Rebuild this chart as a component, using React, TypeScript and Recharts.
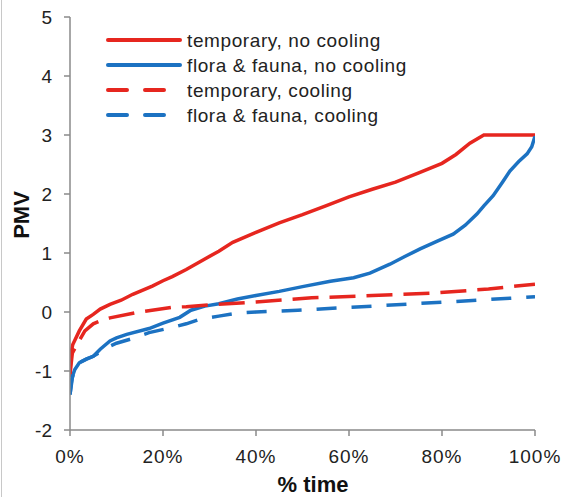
import React from 'react';
import { LineChart, Line, XAxis, YAxis, Legend, Label } from 'recharts';

const xTicks = [0, 20, 40, 60, 80, 100];
const yTicks = [-2, -1, 0, 1, 2, 3, 4, 5];

const seriesNames = [
  'temporary, no cooling',
  'flora & fauna, no cooling',
  'temporary, cooling',
  'flora & fauna, cooling',
];

const xTempNoCool = [0, 0.2, 0.6, 2, 3.5, 5, 6.5, 8.6, 11, 13.5, 17.7, 20, 22, 25, 29, 32, 35, 40, 45, 50, 55, 60, 65, 70, 75, 80, 83, 86, 89, 100];
const yTempNoCool = [-1.1, -0.7, -0.55, -0.32, -0.12, -0.04, 0.05, 0.13, 0.2, 0.3, 0.44, 0.53, 0.6, 0.72, 0.9, 1.03, 1.18, 1.35, 1.51, 1.65, 1.8, 1.95, 2.08, 2.2, 2.36, 2.52, 2.67, 2.86, 3.0, 3.0];

const xFloraNoCool = [0, 0.4, 1, 2, 3.5, 5, 6.5, 8.6, 10, 12.2, 17, 20, 23.6, 26, 29, 32, 36, 40, 45, 50, 56, 61, 64.5, 68.8, 72, 75.3, 79, 82.4, 85, 87.5, 89, 91, 93, 94.6, 96.5, 98.3, 99.3, 100];
const yFloraNoCool = [-1.4, -1.12, -0.98, -0.86, -0.8, -0.75, -0.63, -0.49, -0.44, -0.38, -0.28, -0.19, -0.09, 0.03, 0.1, 0.14, 0.22, 0.28, 0.35, 0.43, 0.52, 0.58, 0.66, 0.81, 0.94, 1.07, 1.2, 1.32, 1.47, 1.66, 1.8, 1.97, 2.2, 2.39, 2.55, 2.68, 2.8, 2.98];

const xTempCool = [0, 0.5, 1.5, 3.2, 5, 6.5, 8.6, 15, 22, 25, 30, 40, 52, 65, 78, 90, 96, 100];
const yTempCool = [-1.05, -0.7, -0.55, -0.32, -0.2, -0.15, -0.1, 0.0, 0.08, 0.09, 0.12, 0.17, 0.24, 0.28, 0.32, 0.39, 0.44, 0.47];

const xFloraCool = [0, 0.5, 1, 2, 3.5, 5, 6.5, 8, 10, 13, 17, 21, 25, 28, 32, 36, 40, 49, 65, 81, 96, 100];
const yFloraCool = [-1.4, -1.12, -0.98, -0.86, -0.8, -0.75, -0.68, -0.6, -0.53, -0.46, -0.35, -0.28, -0.2, -0.12, -0.07, -0.02, 0.0, 0.03, 0.1, 0.17, 0.24, 0.26];

const toPts = (xs: number[], ys: number[]) => xs.map((x, i) => ({ x, y: ys[i] }));

const RED = '#e6261f';
const BLUE = '#1c72c2';
const AXIS = '#8a8a8a';
const FONT = 'Liberation Sans, Arial, sans-serif';

const legendItems = [
  { name: seriesNames[0], color: RED, dash: undefined },
  { name: seriesNames[1], color: BLUE, dash: undefined },
  { name: seriesNames[2], color: RED, dash: '19 18' },
  { name: seriesNames[3], color: BLUE, dash: '19 18' },
];

const renderLegend = () => (
  <svg width={320} height={110}>
    {legendItems.map((it, i) => {
      const y = 15 + i * 25;
      return (
        <g key={it.name}>
          <line
            x1={8}
            x2={it.dash ? 64 : 80}
            y1={y}
            y2={y}
            stroke={it.color}
            strokeWidth={4}
            strokeDasharray={it.dash}
            strokeLinecap="round"
          />
          <text
            x={87}
            y={y}
            dominantBaseline="central"
            fontSize={19}
            letterSpacing={0.6}
            fontFamily={FONT}
            fill="#222"
          >
            {it.name}
          </text>
        </g>
      );
    })}
  </svg>
);

export default function App() {
  return (
    <div style={{ position: 'absolute', left: 0, top: 0, width: 565, height: 497, background: '#fff' }}>
      <div style={{ position: 'absolute', left: 1, top: 0, width: 1, height: 497, background: '#c8c8c8' }} />
      <LineChart width={565} height={497} margin={{ top: 17, right: 30, bottom: 37, left: 30 }}>
        <XAxis
          type="number"
          dataKey="x"
          domain={[0, 100]}
          ticks={xTicks}
          tickFormatter={(v: number) => `${v}%`}
          stroke={AXIS}
          strokeWidth={1.5}
          tickSize={6}
          tickMargin={14}
          height={30}
          tick={{ fill: '#222', fontSize: 19, fontFamily: FONT, letterSpacing: 1 }}
          allowDataOverflow
        >
          <Label
            content={() => (
              <text x={313} y={492} textAnchor="middle" fontSize={22} fontWeight="bold" fontFamily={FONT} fill="#111">
                % time
              </text>
            )}
          />
        </XAxis>
        <YAxis
          type="number"
          domain={[-2, 5]}
          ticks={yTicks}
          stroke={AXIS}
          strokeWidth={1.5}
          tickSize={6}
          tickMargin={12}
          width={40}
          tick={{ fill: '#222', fontSize: 19, fontFamily: FONT }}
          allowDataOverflow
        >
          <Label
            content={() => (
              <text
                x={21}
                y={215}
                transform="rotate(-90, 21, 215)"
                textAnchor="middle"
                dominantBaseline="central"
                fontSize={22}
                fontWeight="bold"
                fontFamily={FONT}
                fill="#111"
              >
                PMV
              </text>
            )}
          />
        </YAxis>
        <Legend
          layout="horizontal"
          verticalAlign="middle"
          align="center"
          content={renderLegend}
          wrapperStyle={{ left: 100, top: 25, width: 320, height: 110 }}
        />
        <Line data={toPts(xTempNoCool, yTempNoCool)} dataKey="y" name={seriesNames[0]} stroke={RED} strokeWidth={3.5} dot={false} isAnimationActive={false} type="linear" />
        <Line data={toPts(xFloraNoCool, yFloraNoCool)} dataKey="y" name={seriesNames[1]} stroke={BLUE} strokeWidth={3.5} dot={false} isAnimationActive={false} type="linear" />
        <Line data={toPts(xTempCool, yTempCool)} dataKey="y" name={seriesNames[2]} stroke={RED} strokeWidth={3.5} strokeDasharray="26 11" dot={false} isAnimationActive={false} type="linear" />
        <Line data={toPts(xFloraCool, yFloraCool)} dataKey="y" name={seriesNames[3]} stroke={BLUE} strokeWidth={3.5} strokeDasharray="20 15" dot={false} isAnimationActive={false} type="linear" />
      </LineChart>
    </div>
  );
}
